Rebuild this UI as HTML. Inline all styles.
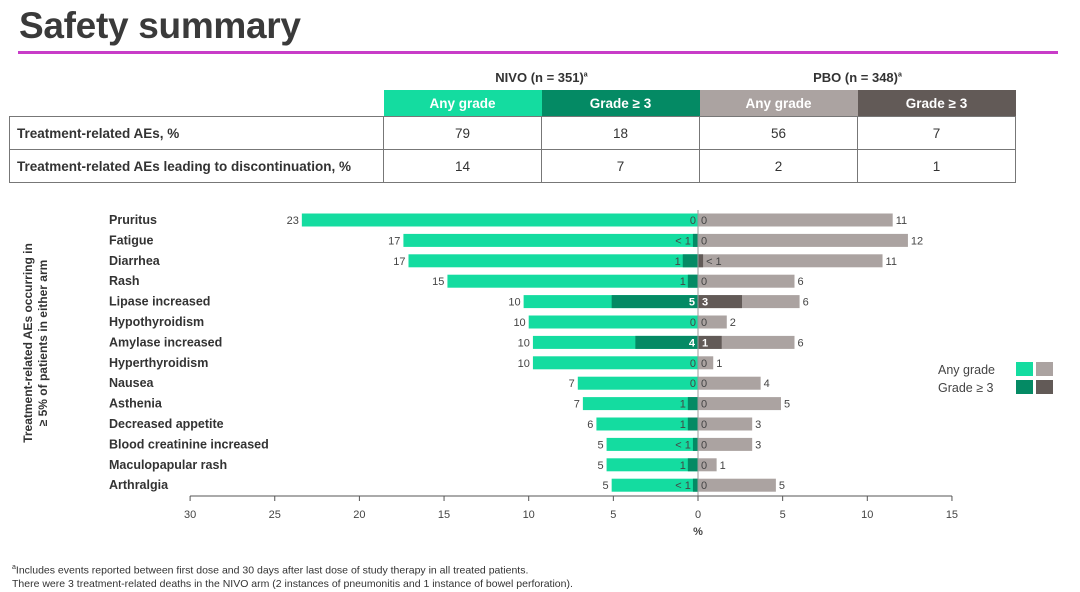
<!DOCTYPE html>
<html><head><meta charset="utf-8"><style>
body{margin:0;width:1080px;height:592px;background:#fff;font-family:"Liberation Sans",sans-serif;color:#333;position:relative;overflow:hidden}
.title{position:absolute;left:19px;top:5px;font-size:37px;font-weight:bold;color:#3a3a3a;letter-spacing:-0.3px}
.rule{position:absolute;left:18px;top:51px;width:1040px;height:3px;background:#c83cc8}
table{position:absolute;left:9px;top:64px;border-collapse:collapse;font-size:13.5px}
td{text-align:center;padding:0}
.hd td{height:26px;font-weight:bold;color:#fff}
.grp td{height:26px;font-weight:bold;color:#333;font-size:13px}
.row td{height:32px;border:1px solid #777}
.row td.lab{text-align:left;padding-left:7px;font-weight:bold;width:366px}
.c{width:158px}
.foot{position:absolute;left:12px;top:561px;font-size:10.5px;color:#333;line-height:13px}
</style></head><body>
<div class="title">Safety summary</div>
<div class="rule"></div>
<table>
<tr class="grp"><td style="width:374px"></td><td colspan="2">NIVO (n = 351)<sup style="font-size:7px">a</sup></td><td colspan="2">PBO (n = 348)<sup style="font-size:7px">a</sup></td></tr>
<tr class="hd"><td></td><td class="c" style="background:#14dca0">Any grade</td><td class="c" style="background:#048a64">Grade ≥ 3</td><td class="c" style="background:#aba3a1">Any grade</td><td class="c" style="background:#625a57">Grade ≥ 3</td></tr>
<tr class="row"><td class="lab">Treatment-related AEs, %</td><td>79</td><td>18</td><td>56</td><td>7</td></tr>
<tr class="row"><td class="lab">Treatment-related AEs leading to discontinuation, %</td><td>14</td><td>7</td><td>2</td><td>1</td></tr>
</table>
<svg id="chart" width="1080" height="592" style="position:absolute;left:0;top:0"></svg>
<div class="foot"><sup style="font-size:7px">a</sup>Includes events reported between first dose and 30 days after last dose of study therapy in all treated patients.<br>There were 3 treatment-related deaths in the NIVO arm (2 instances of pneumonitis and 1 instance of bowel perforation).</div>
<script>
const categories=["Pruritus","Fatigue","Diarrhea","Rash","Lipase increased","Hypothyroidism","Amylase increased","Hyperthyroidism","Nausea","Asthenia","Decreased appetite","Blood creatinine increased","Maculopapular rash","Arthralgia"];
const nivoAny=[23.4,17.4,17.1,14.8,10.3,10,9.75,9.75,7.1,6.8,6.0,5.4,5.4,5.1];
const nivoG3=[0,0.3,0.9,0.6,5.1,0,3.7,0,0,0.6,0.6,0.3,0.6,0.3];
const pboAny=[11.5,12.4,10.9,5.7,6.0,1.7,5.7,0.9,3.7,4.9,3.2,3.2,1.1,4.6];
const pboG3=[0,0,0.3,0,2.6,0,1.4,0,0,0,0,0,0,0];
const nivoAnyLbl=["23","17","17","15","10","10","10","10","7","7","6","5","5","5"];
const nivoG3Lbl=["0","< 1","1","1","5","0","4","0","0","1","1","< 1","1","< 1"];
const pboAnyLbl=["11","12","11","6","6","2","6","1","4","5","3","3","1","5"];
const pboG3Lbl=["0","0","< 1","0","3","0","1","0","0","0","0","0","0","0"];
const ticks=[30,25,20,15,10,5,0,5,10,15];
const tickVals=[-30,-25,-20,-15,-10,-5,0,5,10,15];
const svg=document.getElementById('chart');const NS='http://www.w3.org/2000/svg';
const x0=698,k=16.93;const X=v=>x0+v*k;
const rowY=i=>220+i*20.4;
function mk(t,a,txt){const e=document.createElementNS(NS,t);for(const n in a)e.setAttribute(n,a[n]);if(txt!==undefined)e.textContent=txt;svg.appendChild(e);return e;}
const bh=13;
categories.forEach((c,i)=>{const y=rowY(i);
 let e=mk('text',{x:109,y:y+4,'font-size':12.5,'font-weight':'bold',fill:'#333'},c);
 
 e=mk('rect',{x:X(-nivoAny[i]),y:y-bh/2,width:nivoAny[i]*k,height:bh,fill:'#14dca0'});
 
 e=mk('rect',{x:X(-nivoG3[i]),y:y-bh/2,width:nivoG3[i]*k,height:bh,fill:'#048a64'});
 
 e=mk('rect',{x:X(0),y:y-bh/2,width:pboAny[i]*k,height:bh,fill:'#aba3a1'});
 
 e=mk('rect',{x:X(0),y:y-bh/2,width:pboG3[i]*k,height:bh,fill:'#625a57'});
 
 e=mk('text',{x:X(-nivoAny[i])-3,y:y+4,'font-size':11,'text-anchor':'end',fill:'#444'},nivoAnyLbl[i]);
 
 const big=nivoG3[i]>2;
 e=mk('text',{x:big?X(0)-3:X(-nivoG3[i])-2,y:y+4,'font-size':11,'text-anchor':'end',fill:big?'#fff':'#444','font-weight':big?'bold':'normal'},nivoG3Lbl[i]);
 
 const bigp=pboG3[i]>1;
 e=mk('text',{x:bigp?X(0)+4:X(pboG3[i])+3,y:y+4,'font-size':11,fill:bigp?'#fff':'#444','font-weight':bigp?'bold':'normal'},pboG3Lbl[i]);
 
 e=mk('text',{x:X(pboAny[i])+3,y:y+4,'font-size':11,fill:'#444'},pboAnyLbl[i]);
 
});
let z=mk('line',{x1:X(0),x2:X(0),y1:210,y2:496,stroke:'#999','stroke-width':1});

let ax=mk('line',{x1:X(-30),x2:X(15),y1:496,y2:496,stroke:'#555','stroke-width':1});

tickVals.forEach((v,i)=>{mk('line',{x1:X(v),x2:X(v),y1:496,y2:501,stroke:'#555'});
 const t=mk('text',{x:X(v),y:518,'font-size':11,'text-anchor':'middle',fill:'#444'},ticks[i]);
 });
let xt=mk('text',{x:X(0),y:535,'font-size':11,'font-weight':'bold','text-anchor':'middle',fill:'#444'},'%');

let yt=mk('text',{transform:'translate(32,343) rotate(-90)','font-size':12,'font-weight':'bold','text-anchor':'middle',fill:'#333'});

const t1=document.createElementNS(NS,'tspan');t1.setAttribute('x',0);t1.setAttribute('dy',0);t1.textContent='Treatment-related AEs occurring in';yt.appendChild(t1);
const t2=document.createElementNS(NS,'tspan');t2.setAttribute('x',0);t2.setAttribute('dy',15);t2.textContent='≥ 5% of patients in either arm';yt.appendChild(t2);
let lg=mk('text',{x:938,y:374,'font-size':12.5,fill:'#444'},'Any grade');
lg=mk('text',{x:938,y:392,'font-size':12.5,fill:'#444'},'Grade ≥ 3');
[['#14dca0',1016,362],['#aba3a1',1036,362],['#048a64',1016,380],['#625a57',1036,380]].forEach(a=>{const r=mk('rect',{x:a[1],y:a[2],width:17,height:14,fill:a[0]});
 });
</script>
</body></html>
